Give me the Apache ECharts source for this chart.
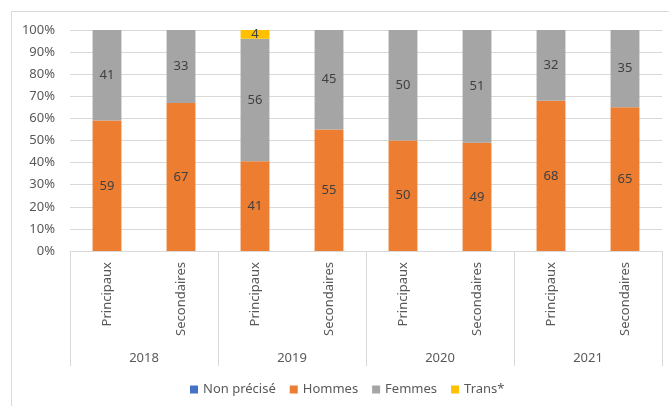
<!DOCTYPE html>
<html>
<head>
<meta charset="utf-8">
<script src="https://cdn.jsdelivr.net/npm/echarts@6/dist/echarts.min.js"></script>
<style>
  html, body { margin: 0; padding: 0; background: #fff; }
  #frame { position: absolute; left: 11px; top: 11px; width: 670px; height: 400px; border: 1px solid #d9d9d9; }
  #chart { position: absolute; left: 0; top: 0; width: 669px; height: 406px; }
</style>
</head>
<body>
<div id="frame"></div>
<div id="chart"></div>
<script>
// catégories (niveau 1 et niveau 2)
const types = ['Principaux', 'Secondaires', 'Principaux', 'Secondaires', 'Principaux', 'Secondaires', 'Principaux', 'Secondaires'];
const years = ['2018', '2019', '2020', '2021'];
// valeurs affichées (en %)
const nonPrecise = [0, 0, 0, 0, 0, 0, 0, 0];
const hommes = [59, 67, 41, 55, 50, 49, 68, 65];
const femmes = [41, 33, 56, 45, 50, 51, 32, 35];
const trans = [0, 0, 4, 0, 0, 0, 0, 0];
const yTicks = [0, 10, 20, 30, 40, 50, 60, 70, 80, 90, 100];

const font = 'Noto Sans';
const textColor = '#595959';
const lineColor = '#d9d9d9';

// empilement 100% : chaque barre est ramenée à son total
const totals = types.map((_, i) => nonPrecise[i] + hommes[i] + femmes[i] + trans[i]);

const makeSeries = (name, data, color) => ({
  name: name,
  type: 'bar',
  stack: 'total',
  barWidth: '39%',
  data: data.map((v, i) => v / totals[i] * 100),
  itemStyle: { color: color },
  label: {
    show: true,
    position: 'inside',
    color: '#404040',
    fontSize: 13,
    fontFamily: font,
    formatter: p => (data[p.dataIndex] ? String(data[p.dataIndex]) : '')
  }
});

const chart = echarts.init(document.getElementById('chart'));
chart.setOption({
  animation: false,
  grid: { left: 70, right: 7, top: 30, bottom: 155 },
  legend: {
    bottom: 5,
    left: 185,
    itemWidth: 8,
    itemHeight: 8,
    itemGap: 14,
    icon: 'rect',
    textStyle: { color: textColor, fontSize: 13, fontFamily: font },
    data: ['Non précisé', 'Hommes', 'Femmes', 'Trans*']
  },
  xAxis: [
    {
      type: 'category',
      data: types,
      axisLine: { lineStyle: { color: lineColor } },
      axisTick: { show: false },
      axisLabel: { rotate: 90, margin: 11, color: textColor, fontSize: 13, fontFamily: font }
    },
    {
      type: 'category',
      data: years,
      position: 'bottom',
      axisLine: { show: false },
      axisTick: { show: true, length: 115, lineStyle: { color: lineColor } },
      axisLabel: { margin: 101, color: textColor, fontSize: 13, fontFamily: font }
    }
  ],
  yAxis: {
    type: 'value',
    min: yTicks[0],
    max: yTicks[yTicks.length - 1],
    interval: 10,
    axisLine: { show: false },
    axisTick: { show: false },
    splitLine: { lineStyle: { color: lineColor } },
    axisLabel: { formatter: '{value}%', margin: 15, color: textColor, fontSize: 13, fontFamily: font }
  },
  series: [
    makeSeries('Non précisé', nonPrecise, '#4472c4'),
    makeSeries('Hommes', hommes, '#ed7d31'),
    makeSeries('Femmes', femmes, '#a5a5a5'),
    makeSeries('Trans*', trans, '#ffc000')
  ]
});
</script>
</body>
</html>
